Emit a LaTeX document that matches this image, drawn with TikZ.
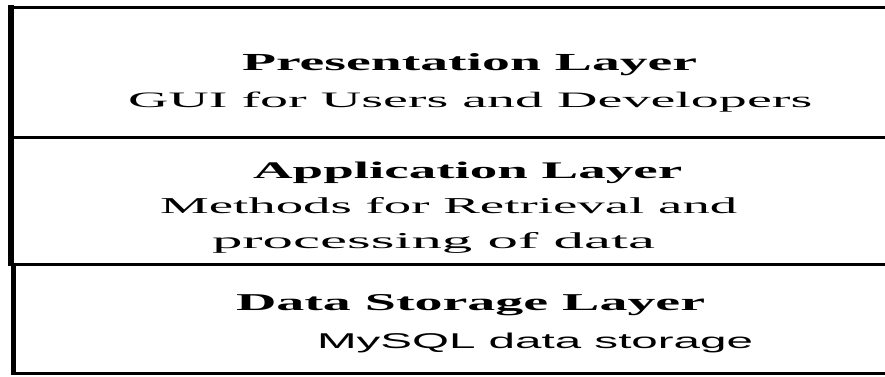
\documentclass[tikz,border=0pt]{standalone}
\usepackage{fontspec}
\setmainfont{Liberation Serif}
\newfontfamily\labelsans{Liberation Sans}
\usepackage{graphicx}

% Fit a line of text to a given width and height (pt)
\newcommand{\fitline}[3]{\resizebox{#1pt}{#2pt}{#3}}

\begin{document}
\begin{tikzpicture}[x=1pt,y=1pt,
  frame/.style={line width=3pt, black},
  edge/.style={line width=6pt, black},
  lbl/.style={anchor=base west, inner sep=0pt, outer sep=0pt}]
  \useasboundingbox (0,0) rectangle (885,376);
  \clip (0,0) rectangle (885,376);

  % horizontal separators of the layer stack
  \coordinate (t1) at (11,368.5);
  \coordinate (t2) at (11,238.5);
  \coordinate (t3) at (11,112);
  \coordinate (t4) at (13.5,2.5);
  \draw[frame] (t1) -- (892,368.5);
  \draw[frame] (t2) -- (892,238.5);
  \draw[frame] (t3) -- (892,112);
  \draw[frame] (t4) -- (892,2.5);

  % heavy left edges
  \draw[edge] (11,371) -- (11,110);
  \draw[line width=5pt] (13.5,113.5) -- (13.5,1);

  % Presentation layer
  \node[lbl] (presT) at (242,306) {\fitline{455}{17}{\bfseries Presentation Layer}};
  \node[lbl] (presS) at (128,269) {\fitline{684}{15.5}{GUI for Users and Developers}};

  % Application layer
  \node[lbl] (appT) at (253,198) {\fitline{429}{16.5}{\bfseries Application Layer}};
  \node[lbl] (appS1) at (160,163) {\fitline{577}{16}{Methods for Retrieval and}};
  \node[lbl] (appS2) at (212,128) {\fitline{443}{16}{processing of data}};

  % Data storage layer
  \node[lbl] (dataT) at (236,66) {\fitline{469}{16}{\bfseries Data Storage Layer}};
  \node[lbl] (dataS) at (317,28) {\fitline{436}{15.5}{\labelsans MySQL data storage}};
\end{tikzpicture}
\end{document}
